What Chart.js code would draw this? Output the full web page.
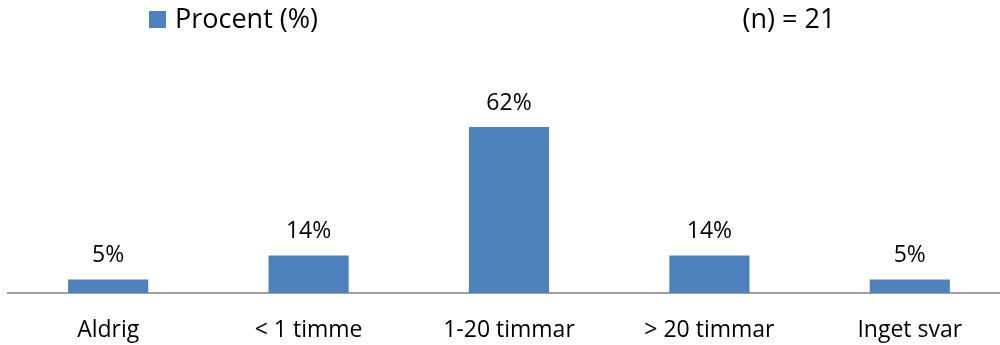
<!DOCTYPE html>
<html>
<head>
<meta charset="utf-8">
<script src="https://cdn.jsdelivr.net/npm/chart.js@4/dist/chart.umd.min.js"></script>
<style>
  html, body { margin: 0; padding: 0; background: #ffffff; overflow: hidden; }
  #wrap { width: 1010px; height: 345px; position: relative; }
</style>
</head>
<body>
<div id="wrap"><canvas id="c"></canvas></div>
<script>
// Answer categories and the share of respondents (%) in each
const categories = ['Aldrig', '< 1 timme', '1-20 timmar', '> 20 timmar', 'Inget svar'];
const percentValues = [5, 14, 62, 14, 5];
const seriesName = 'Procent (%)';
const sampleNote = '(n) = 21';

const FONT = '"Open Sans", Lato, sans-serif';
const BAR_BLUE = '#4F81BD';

// Legend square + series name, and the sample size note, at the top
const headerPlugin = {
  id: 'header',
  afterDraw(chart) {
    const ctx = chart.ctx;
    ctx.save();
    ctx.fillStyle = BAR_BLUE;
    ctx.fillRect(149, 11, 17, 17);
    ctx.fillStyle = '#000000';
    ctx.font = '27px ' + FONT;
    ctx.textBaseline = 'middle';
    ctx.textAlign = 'left';
    ctx.fillText(seriesName, 175, 20);
    ctx.textAlign = 'center';
    ctx.fillText(sampleNote, 789, 20);
    ctx.restore();
  }
};

// Value labels above each bar
const valueLabelPlugin = {
  id: 'valueLabels',
  afterDatasetsDraw(chart) {
    const ctx = chart.ctx;
    const meta = chart.getDatasetMeta(0);
    ctx.save();
    ctx.fillStyle = '#000000';
    ctx.font = '23px ' + FONT;
    ctx.textAlign = 'center';
    ctx.textBaseline = 'middle';
    meta.data.forEach((bar, i) => {
      ctx.fillText(percentValues[i] + '%', bar.x, bar.y - 24);
    });
    ctx.restore();
  }
};

new Chart(document.getElementById('c'), {
  type: 'bar',
  data: {
    labels: categories,
    datasets: [{
      label: seriesName,
      data: percentValues,
      backgroundColor: BAR_BLUE,
      borderWidth: 0,
      categoryPercentage: 1,
      barPercentage: 0.4
    }]
  },
  options: {
    responsive: true,
    maintainAspectRatio: false,
    animation: false,
    layout: { padding: { top: 105.6, left: 8, right: 0, bottom: 0 } },
    plugins: {
      legend: { display: false },
      tooltip: { enabled: false }
    },
    scales: {
      x: {
        grid: { display: false, drawTicks: false },
        border: { display: true, color: '#A0A0A0', width: 2 },
        ticks: {
          color: '#000000',
          font: { family: FONT, size: 23 },
          padding: 24,
          maxRotation: 0,
          autoSkip: false
        },
        afterFit(scale) { scale.height = 52; }
      },
      y: {
        display: false,
        min: 0,
        max: 70
      }
    }
  },
  plugins: [headerPlugin, valueLabelPlugin]
});
</script>
</body>
</html>
